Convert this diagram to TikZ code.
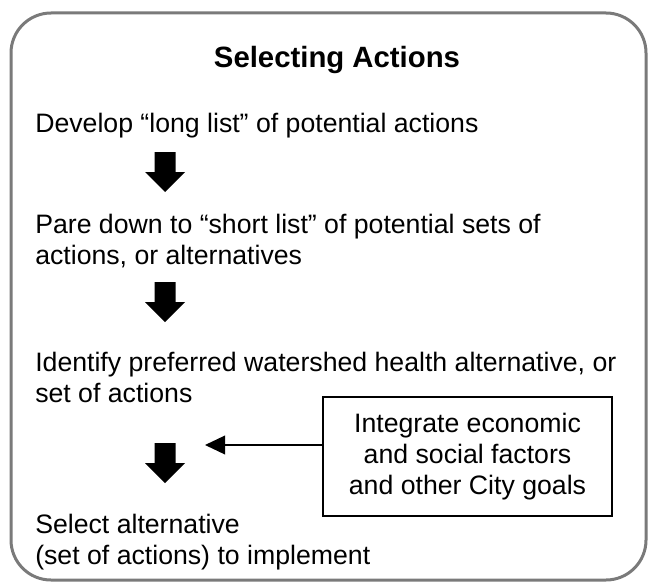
\documentclass[tikz,border=0pt]{standalone}
\usepackage{fontspec}
\setmainfont{Liberation Sans}
\usetikzlibrary{arrows.meta}

\begin{document}
\begin{tikzpicture}[x=0.75pt,y=-0.75pt]

    \tikzset{
        steptext/.style={
            anchor=base west,
            align=left,
            inner sep=0pt,
            font=\fontsize{20}{23.25}\selectfont
        },
        factorbox/.style={
            draw,
            line width=1.1pt,
            align=center,
            minimum width=216.75pt,
            minimum height=89.25pt,
            font=\fontsize{20}{23.25}\selectfont
        }
    }
    \useasboundingbox (0,0) rectangle (649,585);
    \draw[line width=2.25pt, draw=black!52, rounded corners=30pt] (11,13) rectangle (646,580);

    \node[font=\bfseries\fontsize{22}{26}\selectfont] (title) at (337,60) {Selecting Actions};

    \node[steptext] (s1) at (35,132) {Develop “long list” of potential actions};
    \node[steptext] (s2) at (35,264) {Pare down to “short list” of potential sets of\\actions, or alternatives};
    \node[steptext] (s3) at (35,402) {Identify preferred watershed health alternative, or\\set of actions};
    \node[steptext] (s4) at (35,564) {Select alternative\\(set of actions) to implement};

    \foreach \y in {152,282,443}
        \fill (154.5,\y) -- (175.5,\y) -- (175.5,\y+20) -- (185,\y+20)
            -- (165,\y+40) -- (145,\y+20) -- (154.5,\y+20) -- cycle;

    \node[factorbox] (fac) at (467.5,456.5) {Integrate economic\\and social factors\\and other City goals};

    \coordinate (aim) at (205,445);
    \draw[line width=1.1pt, -{Triangle[length=15pt,width=14pt]}] (aim -| fac.west) -- (aim);

\end{tikzpicture}
\end{document}
